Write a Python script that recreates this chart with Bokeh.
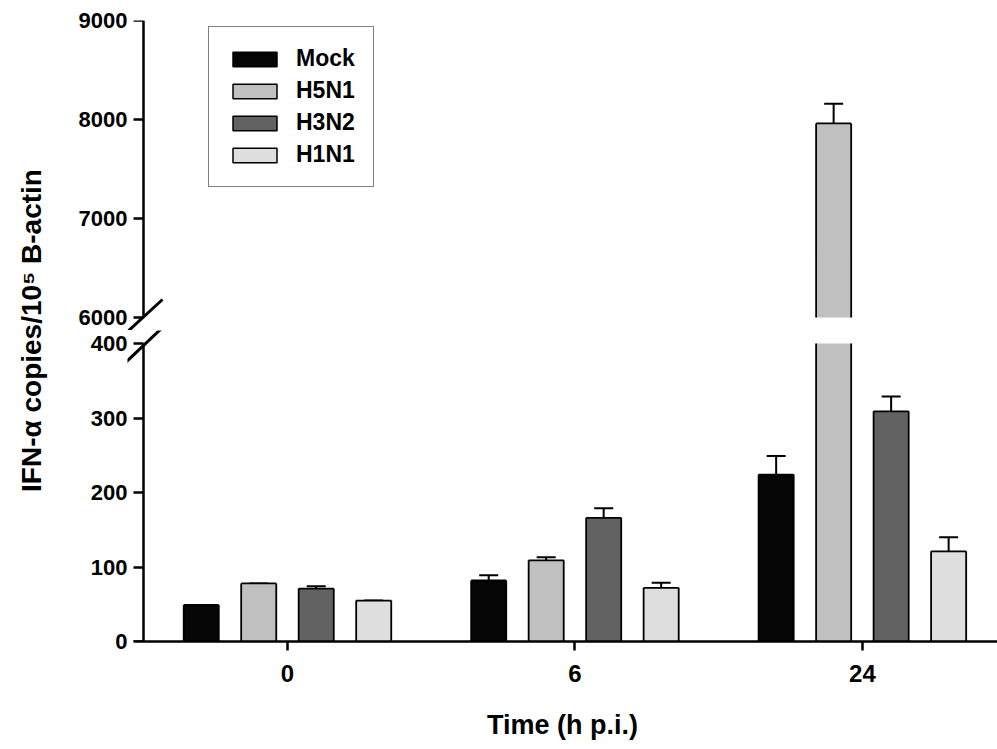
from bokeh.plotting import figure
from bokeh.models import (Range1d, FixedTicker, Whisker, TeeHead, LinearAxis,
                          Label, Arrow, ColumnDataSource, CDSView, BooleanFilter)
from bokeh.transform import dodge
from bokeh.layouts import row, column
from bokeh.embed import file_html
from bokeh.resources import INLINE

# ---------------- data ----------------
times = ["0", "6", "24"]
series = ["Mock", "H5N1", "H3N2", "H1N1"]
mock = [49, 82, 224]
mock_err = [0, 7, 25]
h5n1 = [78, 109, 7960]
h5n1_err = [0, 4, 200]
h3n2 = [71, 166, 309]
h3n2_err = [3, 13, 20]
h1n1 = [55, 72, 121]
h1n1_err = [0, 7, 19]
colors = ["#050505", "#c0c0c0", "#626262", "#dedede"]
upper_ticks = [6000, 7000, 8000, 9000]
lower_ticks = [0, 100, 200, 300, 400]
upper_range = (6000, 9000)
lower_range = (0, 400)

values = [mock, h5n1, h3n2, h1n1]
errors = [mock_err, h5n1_err, h3n2_err, h1n1_err]
data = dict(pos=list(range(len(times))), zero=[0] * len(times))
for name, v, e in zip(series, values, errors):
    data[name] = v
    data[name + "_hi"] = [a + b for a, b in zip(v, e)]
    data[name + "_low"] = [min(a, lower_range[1]) for a in v]  # part shown below the break
src = ColumnDataSource(data)

FONT = "Liberation Sans"
offsets = [-0.3, -0.1, 0.1, 0.3]
BAR_W = 0.122

# layout geometry (pixels)
LAB_W = 48
MAIN_W = 997 - LAB_W
BORDER_L = 79
UP_FRAME, UP_AXIS = 310, 297      # upper frame height / height of 6000..9000
LOW_FRAME, LOW_AXIS = 311, 298    # lower frame height / height of 0..400
x_range = Range1d(-0.5565, 2.47)
AXIS_X = -0.5                     # y axis sits half a group left of the first group

up_y = Range1d(upper_range[1] - (upper_range[1] - upper_range[0]) * UP_FRAME / UP_AXIS, upper_range[1])
low_y = Range1d(lower_range[0], lower_range[0] + (lower_range[1] - lower_range[0]) * LOW_FRAME / LOW_AXIS)


def style_y(p, ticks, bounds):
    # axis line + ticks, placed at the axis position inside the frame (no labels)
    ax = p.yaxis[0]
    ax.ticker = FixedTicker(ticks=ticks)
    ax.bounds = bounds
    ax.fixed_location = AXIS_X
    ax.axis_line_width = 2.5
    ax.axis_line_color = "black"
    ax.major_tick_line_width = 2.5
    ax.major_tick_line_color = "black"
    ax.major_tick_out = 10
    ax.major_tick_in = 0
    ax.minor_tick_line_color = None
    ax.major_label_overrides = {t: "" for t in ticks}
    ax.major_label_text_color = None
    ax.major_label_standoff = 0
    # tick labels
    la = LinearAxis(ticker=FixedTicker(ticks=ticks), bounds=bounds,
                    axis_line_color=None, major_tick_line_color=None,
                    minor_tick_line_color=None, major_tick_out=0, major_tick_in=0,
                    major_label_standoff=0, major_label_text_font=FONT,
                    major_label_text_font_style="bold", major_label_text_font_size="22px",
                    major_label_text_color="black")
    p.add_layout(la, "left")


def add_bars(p, upper):
    for name, v, off, c in zip(series, values, offsets, colors):
        xc = dodge("pos", off)
        left = dodge("pos", off - BAR_W / 2)
        right = dodge("pos", off + BAR_W / 2)
        if upper:
            # hidden renderer that only supplies the legend swatch
            r = p.vbar(x=xc, top=name, width=BAR_W, source=src, fill_color=c,
                       line_color="black", line_width=1.5, legend_label=name)
            r.visible = False
            view = CDSView(filter=BooleanFilter([val > upper_range[0] for val in v]))
            top_view = view
            base, top_field = upper_range[0], name
        else:
            view = CDSView(filter=BooleanFilter([True] * len(v)))
            top_view = CDSView(filter=BooleanFilter([val <= lower_range[1] for val in v]))
            base, top_field = lower_range[0], name + "_low"
        p.vbar(x=xc, top=top_field, bottom=base, width=BAR_W, source=src, view=view,
               fill_color=c, line_color=None)
        seg = dict(source=src, line_color="black", line_width=1.8)
        p.segment(x0=left, y0=base, x1=left, y1=top_field, view=view, **seg)
        p.segment(x0=right, y0=base, x1=right, y1=top_field, view=view, **seg)
        p.segment(x0=left, y0=name, x1=right, y1=name, view=top_view, **seg)
        p.add_layout(Whisker(source=src, base=xc, upper=name + "_hi", lower=name,
                             dimension="height", line_width=2, line_color="black",
                             upper_head=TeeHead(size=19, line_width=2, line_color="black"),
                             lower_head=None))


# ---------------- upper panel ----------------
top = figure(width=MAIN_W, height=20 + UP_FRAME, x_range=x_range, y_range=up_y,
             x_axis_location=None, output_backend="svg", toolbar_location=None,
             min_border_left=BORDER_L, min_border_right=0, min_border_top=20, min_border_bottom=0)
top.outline_line_color = None
top.grid.visible = False
style_y(top, upper_ticks, upper_range)
add_bars(top, upper=True)
# break mark on the upper segment
top.add_layout(Arrow(end=None, x_start=-2, y_start=-3, x_end=35, y_end=31,
                     start_units="screen", end_units="screen",
                     line_width=3, line_color="black"))

lg = top.legend[0]
lg.location = (81, 143)
lg.border_line_color = "black"
lg.border_line_width = 1.5
lg.background_fill_color = "white"
lg.background_fill_alpha = 1
lg.glyph_width = 55
lg.glyph_height = 18
lg.label_text_font = FONT
lg.label_text_font_style = "bold"
lg.label_text_font_size = "23px"
lg.label_text_color = "black"
lg.label_standoff = 14
lg.padding = 18
lg.spacing = 5
lg.margin = 0
lg.inactive_fill_alpha = 0

# ---------------- lower panel ----------------
low = figure(width=MAIN_W, height=LOW_FRAME + 108, x_range=x_range, y_range=low_y,
             output_backend="svg", toolbar_location=None,
             min_border_left=BORDER_L, min_border_right=0, min_border_top=0, min_border_bottom=108)
low.outline_line_color = None
low.grid.visible = False
style_y(low, lower_ticks, lower_range)
add_bars(low, upper=False)
# break mark on the lower segment
low.add_layout(Arrow(end=None, x_start=-2, y_start=279, x_end=35, y_end=314,
                     start_units="screen", end_units="screen",
                     line_width=3, line_color="black"))

xa = low.xaxis[0]
xa.ticker = FixedTicker(ticks=data["pos"])
xa.major_label_overrides = {i: t for i, t in zip(data["pos"], times)}
xa.bounds = (-0.535, x_range.end)
xa.axis_line_width = 2.5
xa.axis_line_color = "black"
xa.major_tick_line_width = 2.5
xa.major_tick_line_color = "black"
xa.major_tick_out = 9
xa.major_tick_in = 0
xa.minor_tick_line_color = None
xa.major_label_text_font = FONT
xa.major_label_text_font_style = "bold"
xa.major_label_text_font_size = "24px"
xa.major_label_text_color = "black"
xa.major_label_standoff = 14
xa.axis_label = "Time (h p.i.)"
xa.axis_label_text_font = FONT
xa.axis_label_text_font_style = "bold"
xa.axis_label_text_font_size = "27px"
xa.axis_label_text_color = "black"
xa.axis_label_standoff = 25

# ---------------- y title panel ----------------
lab = figure(width=LAB_W, height=749, x_range=Range1d(0, LAB_W), y_range=Range1d(749, 0),
             x_axis_location=None, y_axis_location=None, output_backend="svg",
             toolbar_location=None, min_border=0)
lab.outline_line_color = None
lab.grid.visible = False
lab.add_layout(Label(x=31, y=330, text="IFN-α copies/10⁵ B-actin", angle=90, angle_units="deg",
                     text_align="center", text_baseline="middle", text_font=FONT,
                     text_font_style="bold", text_font_size="28px", text_color="black"))

layout = row(lab, column(top, low, spacing=0), spacing=0)
open("out.html", "w").write(file_html(layout, INLINE))
